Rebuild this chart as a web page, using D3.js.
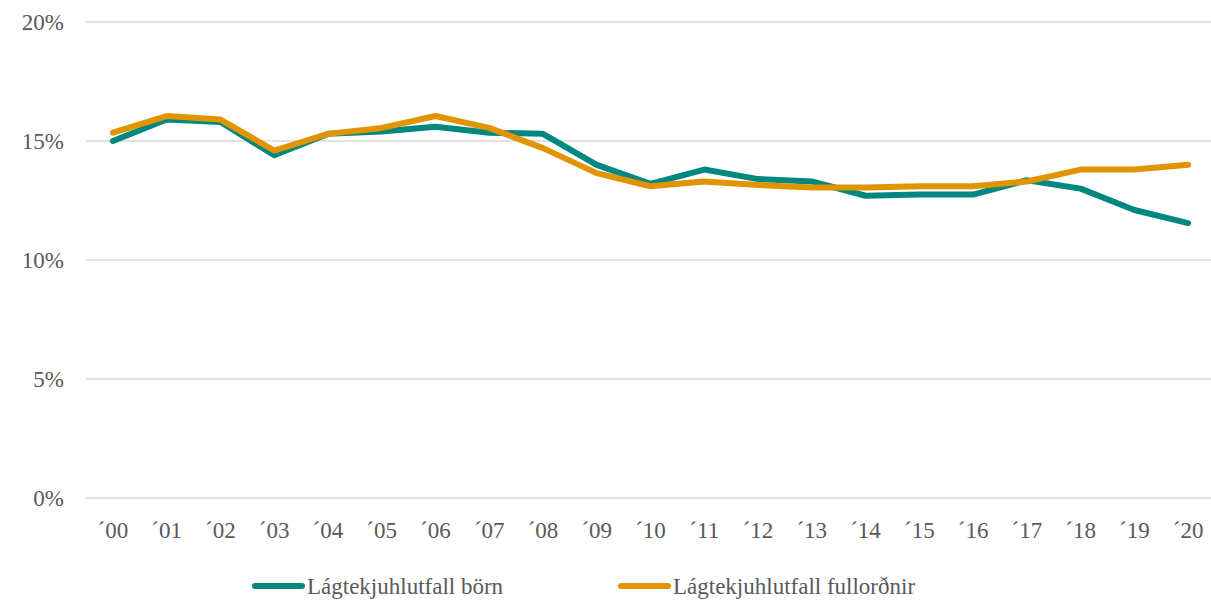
<!DOCTYPE html>
<html>
<head>
<meta charset="utf-8">
<script src="https://cdn.jsdelivr.net/npm/d3@7"></script>
<style>
  body { margin: 0; background: #fff; }
  svg { display: block; }
</style>
</head>
<body>
<div id="chart"></div>
<script>
// Years shown on the x axis
const years = ['00', '01', '02', '03', '04', '05', '06', '07', '08', '09', '10',
    '11', '12', '13', '14', '15', '16', '17', '18', '19', '20']

// Low income ratio, children (%)
const born = [15.0, 15.9, 15.8, 14.4, 15.3, 15.4, 15.6, 15.35, 15.3, 14.0, 13.2,
    13.8, 13.4, 13.3, 12.7, 12.75, 12.75, 13.35, 13.0, 12.1, 11.55]

// Low income ratio, adults (%)
const fullordnir = [15.35, 16.05, 15.9, 14.6, 15.3, 15.55, 16.05, 15.55, 14.7, 13.65, 13.1,
    13.3, 13.15, 13.05, 13.05, 13.1, 13.1, 13.3, 13.8, 13.8, 14.0]

const yTicks = [0, 5, 10, 15, 20]

const seriesNames = ['Lágtekjuhlutfall börn', 'Lágtekjuhlutfall fullorðnir']
const seriesColors = ['#00877f', '#e09500']

const width = 1211,
    height = 603,
    margin = {top: 22, right: -4, bottom: 105, left: 86},
    font = 'Liberation Serif',
    textColor = '#595959'

const svg = d3.select('#chart')
    .append('svg')
    .attr('width', width)
    .attr('height', height)

const x = d3.scaleBand()
    .domain(years)
    .range([margin.left, width - margin.right])

const y = d3.scaleLinear()
    .domain([0, 20])
    .range([height - margin.bottom, margin.top])

// Horizontal grid lines
svg.append('g')
    .selectAll('line')
    .data(yTicks)
    .join('line')
    .attr('x1', margin.left)
    .attr('x2', width)
    .attr('y1', d => y(d))
    .attr('y2', d => y(d))
    .attr('stroke', '#d9d9d9')
    .attr('stroke-width', 1.5)

// Y labels
svg.append('g')
    .selectAll('text')
    .data(yTicks)
    .join('text')
    .attr('x', 64)
    .attr('y', d => y(d))
    .attr('dy', '0.33em')
    .attr('text-anchor', 'end')
    .attr('fill', textColor)
    .attr('font-family', font)
    .attr('font-size', '23px')
    .text(d => d + '%')

// X labels
svg.append('g')
    .selectAll('text')
    .data(years)
    .join('text')
    .attr('x', d => x(d) + x.bandwidth() / 2)
    .attr('y', y(0) + 32)
    .attr('dy', '0.33em')
    .attr('text-anchor', 'middle')
    .attr('fill', textColor)
    .attr('font-family', font)
    .attr('font-size', '23px')
    .text(d => '\u00b4' + d)

const line = d3.line()
    .x((d, i) => x(years[i]) + x.bandwidth() / 2)
    .y(d => y(d))

svg.append('g')
    .selectAll('path')
    .data([born, fullordnir])
    .join('path')
    .attr('d', d => line(d))
    .attr('fill', 'none')
    .attr('stroke', (d, i) => seriesColors[i])
    .attr('stroke-width', 6)
    .attr('stroke-linejoin', 'round')
    .attr('stroke-linecap', 'round')

// Legend
const legendX = [255, 621]
const legend = svg.append('g')
    .selectAll('g')
    .data(seriesNames)
    .join('g')
    .attr('transform', (d, i) => `translate(${legendX[i]}, 586)`)

legend.append('line')
    .attr('x1', 0)
    .attr('x2', 47)
    .attr('stroke', (d, i) => seriesColors[i])
    .attr('stroke-width', 6)
    .attr('stroke-linecap', 'round')

legend.append('text')
    .attr('x', 52)
    .attr('dy', '0.33em')
    .attr('fill', textColor)
    .attr('font-family', font)
    .attr('font-size', '23px')
    .text(d => d)
</script>
</body>
</html>
